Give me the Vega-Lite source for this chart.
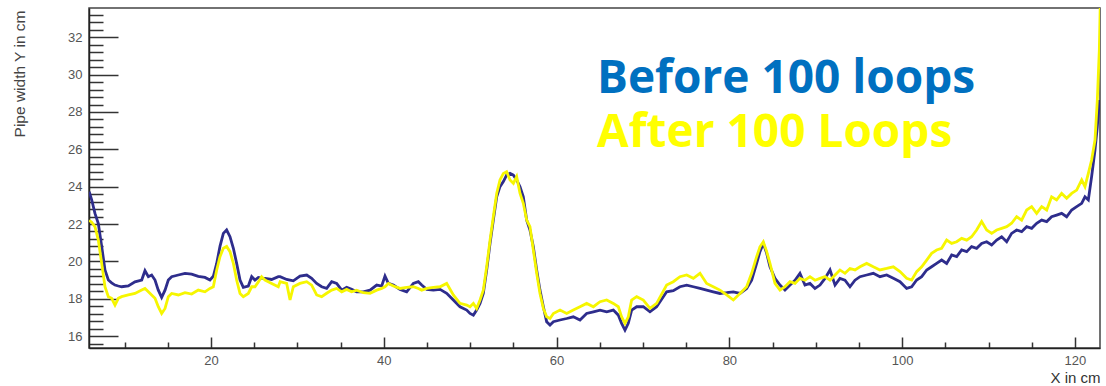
{
  "$schema": "https://vega.github.io/schema/vega-lite/v6.json",
  "width": 1011,
  "height": 340,
  "autosize": "none",
  "padding": {"left": 89, "top": 8, "right": 6, "bottom": 38},
  "background": "white",
  "config": {"view": {"stroke": "#444", "strokeWidth": 1.5}},
  "datasets": {
    "pipe": [
      {"x": 5.9, "b": 23.73, "a": 22.2}, {"x": 6.19, "b": 23.3, "a": 22.1}, {"x": 6.57, "b": 22.57, "a": 21.86}, {"x": 6.96, "b": 22.03, "a": 21.14},
      {"x": 7.35, "b": 20.8, "a": 19.89}, {"x": 7.73, "b": 19.54, "a": 18.64}, {"x": 8.12, "b": 19.0, "a": 18.11}, {"x": 8.5, "b": 18.85, "a": 18.02},
      {"x": 8.89, "b": 18.73, "a": 17.66}, {"x": 9.27, "b": 18.68, "a": 18.02}, {"x": 9.66, "b": 18.64, "a": 18.11}, {"x": 10.43, "b": 18.68, "a": 18.2},
      {"x": 11.2, "b": 18.9, "a": 18.28}, {"x": 11.98, "b": 19.0, "a": 18.46}, {"x": 12.36, "b": 19.5, "a": 18.55}, {"x": 12.75, "b": 19.18, "a": 18.37},
      {"x": 13.13, "b": 19.27, "a": 18.2}, {"x": 13.52, "b": 19.0, "a": 18.02}, {"x": 13.9, "b": 18.46, "a": 17.57}, {"x": 14.29, "b": 18.07, "a": 17.21},
      {"x": 14.68, "b": 18.46, "a": 17.48}, {"x": 15.06, "b": 19.0, "a": 18.11}, {"x": 15.45, "b": 19.18, "a": 18.28}, {"x": 16.22, "b": 19.27, "a": 18.2},
      {"x": 16.99, "b": 19.36, "a": 18.32}, {"x": 17.76, "b": 19.32, "a": 18.25}, {"x": 18.53, "b": 19.2, "a": 18.46}, {"x": 19.3, "b": 19.14, "a": 18.37},
      {"x": 19.88, "b": 19.0, "a": 18.55}, {"x": 20.27, "b": 19.2, "a": 18.64}, {"x": 20.66, "b": 19.89, "a": 19.54}, {"x": 21.04, "b": 20.8, "a": 20.25},
      {"x": 21.43, "b": 21.5, "a": 20.7}, {"x": 21.81, "b": 21.68, "a": 20.8}, {"x": 22.2, "b": 21.32, "a": 20.52}, {"x": 22.59, "b": 20.7, "a": 19.89},
      {"x": 22.97, "b": 19.89, "a": 19.0}, {"x": 23.36, "b": 19.0, "a": 18.28}, {"x": 23.74, "b": 18.61, "a": 18.11}, {"x": 24.32, "b": 18.68, "a": 18.28},
      {"x": 24.71, "b": 19.18, "a": 18.64}, {"x": 25.09, "b": 19.0, "a": 18.64}, {"x": 25.48, "b": 19.14, "a": 18.9}, {"x": 25.86, "b": 19.1, "a": 19.18},
      {"x": 26.25, "b": 19.09, "a": 19.0}, {"x": 27.02, "b": 19.03, "a": 18.82}, {"x": 27.79, "b": 19.18, "a": 18.64},
      {"x": 28.0, "b": 19.18, "a": 18.91}, {"x": 28.76, "b": 19.03, "a": 18.82}, {"x": 29.15, "b": 19.0, "a": 17.93}, {"x": 29.53, "b": 18.96, "a": 18.64},
      {"x": 30.3, "b": 19.21, "a": 18.82}, {"x": 31.08, "b": 19.27, "a": 18.91}, {"x": 31.65, "b": 19.09, "a": 18.73}, {"x": 32.23, "b": 18.82, "a": 18.2},
      {"x": 32.81, "b": 18.64, "a": 18.11}, {"x": 33.39, "b": 18.55, "a": 18.29}, {"x": 33.97, "b": 18.91, "a": 18.46}, {"x": 34.55, "b": 18.82, "a": 18.55},
      {"x": 35.13, "b": 18.46, "a": 18.37}, {"x": 35.7, "b": 18.61, "a": 18.5}, {"x": 36.28, "b": 18.5, "a": 18.37}, {"x": 36.86, "b": 18.37, "a": 18.46},
      {"x": 37.63, "b": 18.37, "a": 18.32}, {"x": 38.41, "b": 18.46, "a": 18.29}, {"x": 39.18, "b": 18.73, "a": 18.46}, {"x": 39.76, "b": 18.68, "a": 18.55},
      {"x": 40.14, "b": 19.21, "a": 18.64}, {"x": 40.53, "b": 18.82, "a": 18.82}, {"x": 41.11, "b": 18.73, "a": 18.68}, {"x": 41.88, "b": 18.5, "a": 18.55},
      {"x": 42.65, "b": 18.37, "a": 18.61}, {"x": 43.42, "b": 18.82, "a": 18.64}, {"x": 44.0, "b": 18.91, "a": 18.55}, {"x": 44.39, "b": 18.73, "a": 18.46},
      {"x": 44.97, "b": 18.5, "a": 18.55}, {"x": 45.74, "b": 18.46, "a": 18.61}, {"x": 46.51, "b": 18.5, "a": 18.64}, {"x": 47.28, "b": 18.29, "a": 18.82},
      {"x": 48.05, "b": 17.93, "a": 18.2}, {"x": 48.82, "b": 17.57, "a": 17.75}, {"x": 49.6, "b": 17.39, "a": 17.66},
      {"x": 49.98, "b": 17.21, "a": 17.57}, {"x": 50.37, "b": 17.12, "a": 17.75}, {"x": 50.75, "b": 17.39, "a": 17.48}, {"x": 51.14, "b": 17.75, "a": 17.93},
      {"x": 51.52, "b": 18.28, "a": 18.46}, {"x": 51.91, "b": 19.53, "a": 19.71}, {"x": 52.3, "b": 20.96, "a": 21.14}, {"x": 52.68, "b": 22.21, "a": 22.39},
      {"x": 53.07, "b": 23.46, "a": 23.64}, {"x": 53.45, "b": 24.0, "a": 24.36}, {"x": 53.84, "b": 24.27, "a": 24.71}, {"x": 54.22, "b": 24.62, "a": 24.8},
      {"x": 54.61, "b": 24.71, "a": 24.36}, {"x": 55.0, "b": 24.62, "a": 24.18}, {"x": 55.38, "b": 24.36, "a": 24.54}, {"x": 55.77, "b": 24.0, "a": 23.64},
      {"x": 56.15, "b": 23.46, "a": 23.11}, {"x": 56.54, "b": 22.21, "a": 22.21}, {"x": 56.92, "b": 21.68, "a": 21.86}, {"x": 57.31, "b": 20.78, "a": 20.61},
      {"x": 57.7, "b": 19.53, "a": 19.36}, {"x": 58.08, "b": 18.46, "a": 18.28}, {"x": 58.47, "b": 17.57, "a": 17.48}, {"x": 58.85, "b": 16.77, "a": 17.03},
      {"x": 59.24, "b": 16.59, "a": 16.94}, {"x": 59.63, "b": 16.77, "a": 17.21}, {"x": 60.4, "b": 16.86, "a": 17.39}, {"x": 61.17, "b": 16.94, "a": 17.21},
      {"x": 61.94, "b": 17.03, "a": 17.39}, {"x": 62.71, "b": 16.86, "a": 17.57}, {"x": 63.48, "b": 17.21, "a": 17.75}, {"x": 64.26, "b": 17.3, "a": 17.57},
      {"x": 65.03, "b": 17.39, "a": 17.84}, {"x": 65.8, "b": 17.3, "a": 17.93}, {"x": 66.57, "b": 17.39, "a": 17.75}, {"x": 67.15, "b": 17.12, "a": 17.57},
      {"x": 67.53, "b": 16.68, "a": 17.03}, {"x": 67.92, "b": 16.32, "a": 16.68}, {"x": 68.3, "b": 16.68, "a": 17.03}, {"x": 68.69, "b": 17.39, "a": 17.93},
      {"x": 69.27, "b": 17.57, "a": 18.11}, {"x": 70.04, "b": 17.57, "a": 17.93}, {"x": 70.81, "b": 17.3, "a": 17.48}, {"x": 71.58, "b": 17.57, "a": 17.75},
      {"x": 72.74, "b": 18.37, "a": 18.73}, {"x": 73.51, "b": 18.43, "a": 18.91}, {"x": 74.28, "b": 18.64, "a": 19.18}, {"x": 75.06, "b": 18.73, "a": 19.27},
      {"x": 75.83, "b": 18.64, "a": 19.09}, {"x": 76.6, "b": 18.55, "a": 19.36}, {"x": 77.37, "b": 18.46, "a": 18.82}, {"x": 78.14, "b": 18.37, "a": 18.64},
      {"x": 78.91, "b": 18.28, "a": 18.46}, {"x": 79.69, "b": 18.32, "a": 18.2}, {"x": 80.46, "b": 18.37, "a": 17.93}, {"x": 81.23, "b": 18.28, "a": 18.28},
      {"x": 82.0, "b": 18.55, "a": 18.64}, {"x": 82.58, "b": 18.99, "a": 19.36}, {"x": 83.16, "b": 19.89, "a": 20.25}, {"x": 83.54, "b": 20.52, "a": 20.78},
      {"x": 83.93, "b": 20.96, "a": 21.05}, {"x": 84.32, "b": 20.43, "a": 20.52}, {"x": 84.7, "b": 19.71, "a": 19.89}, {"x": 85.28, "b": 19.09, "a": 18.82},
      {"x": 85.86, "b": 18.73, "a": 18.46}, {"x": 86.44, "b": 18.46, "a": 18.64}, {"x": 87.02, "b": 18.73, "a": 18.91}, {"x": 87.6, "b": 18.99, "a": 18.82},
      {"x": 88.17, "b": 19.36, "a": 19.09}, {"x": 88.75, "b": 18.73, "a": 18.99}, {"x": 89.33, "b": 18.82, "a": 19.18}, {"x": 89.91, "b": 18.55, "a": 18.99},
      {"x": 90.49, "b": 18.73, "a": 19.09}, {"x": 91.07, "b": 19.09, "a": 19.18}, {"x": 91.65, "b": 19.54, "a": 18.99}, {"x": 92.23, "b": 18.73, "a": 19.27},
      {"x": 92.8, "b": 19.09, "a": 19.54}, {"x": 93.38, "b": 18.99, "a": 19.36}, {"x": 93.96, "b": 18.64, "a": 19.62}, {"x": 94.54, "b": 18.99, "a": 19.54},
      {"x": 95.12, "b": 19.18, "a": 19.71}, {"x": 95.89, "b": 19.27, "a": 19.89}, {"x": 96.66, "b": 19.36, "a": 19.71}, {"x": 97.43, "b": 19.18, "a": 19.54},
      {"x": 98.21, "b": 19.27, "a": 19.62}, {"x": 98.98, "b": 19.09, "a": 19.71}, {"x": 99.75, "b": 18.91, "a": 19.45}, {"x": 100.52, "b": 18.55, "a": 19.09},
      {"x": 101.1, "b": 18.64, "a": 19.0}, {"x": 101.68, "b": 19.0, "a": 19.45}, {"x": 102.26, "b": 19.18, "a": 19.71}, {"x": 102.84, "b": 19.54, "a": 20.07},
      {"x": 103.41, "b": 19.71, "a": 20.43}, {"x": 103.99, "b": 19.89, "a": 20.61}, {"x": 104.57, "b": 20.07, "a": 20.7}, {"x": 105.15, "b": 19.89, "a": 21.14},
      {"x": 105.73, "b": 20.34, "a": 20.96}, {"x": 106.31, "b": 20.25, "a": 21.05}, {"x": 106.89, "b": 20.61, "a": 21.23}, {"x": 107.47, "b": 20.52, "a": 21.14},
      {"x": 108.04, "b": 20.79, "a": 21.32}, {"x": 108.62, "b": 20.7, "a": 21.68}, {"x": 109.2, "b": 20.96, "a": 22.13}, {"x": 109.78, "b": 21.05, "a": 21.68},
      {"x": 110.36, "b": 20.88, "a": 21.5}, {"x": 110.94, "b": 21.14, "a": 21.68}, {"x": 111.52, "b": 21.32, "a": 21.77}, {"x": 112.1, "b": 21.05, "a": 21.86},
      {"x": 112.67, "b": 21.5, "a": 22.04}, {"x": 113.25, "b": 21.68, "a": 22.39}, {"x": 113.83, "b": 21.59, "a": 22.21}, {"x": 114.41, "b": 21.86, "a": 22.75},
      {"x": 114.99, "b": 21.77, "a": 22.93}, {"x": 115.57, "b": 22.04, "a": 22.57}, {"x": 116.15, "b": 22.21, "a": 22.93}, {"x": 116.73, "b": 22.13, "a": 22.75},
      {"x": 117.3, "b": 22.39, "a": 23.46}, {"x": 117.88, "b": 22.48, "a": 23.29}, {"x": 118.46, "b": 22.57, "a": 23.64}, {"x": 119.04, "b": 22.39, "a": 23.38},
      {"x": 119.62, "b": 22.75, "a": 23.64}, {"x": 120.2, "b": 22.93, "a": 23.82}, {"x": 120.78, "b": 23.11, "a": 24.36}, {"x": 121.16, "b": 23.46, "a": 24.0},
      {"x": 121.55, "b": 23.29, "a": 24.71}, {"x": 121.93, "b": 24.54, "a": 25.43}, {"x": 122.32, "b": 25.96, "a": 26.5}, {"x": 122.59, "b": 27.21, "a": 28.64},
      {"x": 122.82, "b": 28.64, "a": 31.3}, {"x": 122.95, "b": null, "a": 34.2}
    ],
    "labels": [
      {"label": "Before 100 loops", "x": 64.68, "b": 29.02},
      {"label": "After 100 Loops", "x": 64.68, "b": 26.12}
    ]
  },
  "encoding": {
    "x": {
      "field": "x",
      "type": "quantitative",
      "scale": {"domain": [5.88, 122.9], "nice": false, "zero": false},
      "axis": {
        "title": "X in cm",
        "values": [10, 15, 20, 25, 30, 35, 40, 45, 50, 55, 60, 65, 70, 75, 80, 85, 90, 95, 100, 105, 110, 115, 120],
        "tickSize": {"condition": {"test": "datum.value % 20 === 0", "value": -11}, "value": -6},
        "labelPadding": 17,
        "labelExpr": "datum.value % 20 === 0 ? format(datum.value, 'd') : ''",
        "labelFont": "Liberation Sans",
        "labelFontSize": 13,
        "labelColor": "#555",
        "labelFlush": false,
        "labelOverlap": false,
        "tickColor": "#333",
        "tickWidth": 1.5,
        "domainColor": "#222",
        "domainWidth": 1.5,
        "grid": false,
        "titleFont": "Liberation Sans",
        "titleFontSize": 15,
        "titleFontWeight": "normal",
        "titleColor": "#333",
        "titleX": 1011,
        "titleY": 34,
        "titleAlign": "right",
        "titleBaseline": "alphabetic"
      }
    },
    "y": {
      "field": "b",
      "type": "quantitative",
      "title": "Pipe width Y in cm",
      "scale": {"domain": [15.36, 33.57], "nice": false, "zero": false},
      "axis": {
        "title": "Pipe width Y in cm",
        "values": [15.6, 16, 16.4, 16.8, 17.2, 17.6, 18, 18.4, 18.8, 19.2, 19.6, 20, 20.4, 20.8, 21.2, 21.6, 22, 22.4, 22.8, 23.2, 23.6, 24, 24.4, 24.8, 25.2, 25.6, 26, 26.4, 26.8, 27.2, 27.6, 28, 28.4, 28.8, 29.2, 29.6, 30, 30.4, 30.8, 31.2, 31.6, 32, 32.4, 32.8, 33.2],
        "tickSize": {"condition": {"test": "datum.value % 2 === 0", "value": -29}, "value": -14},
        "labelPadding": 36,
        "labelExpr": "datum.value % 2 === 0 ? format(datum.value, 'd') : ''",
        "labelFont": "Liberation Sans",
        "labelFontSize": 13,
        "labelColor": "#555",
        "labelFlush": false,
        "labelOverlap": false,
        "tickColor": "#333",
        "tickWidth": 1.5,
        "domainColor": "#222",
        "domainWidth": 1.5,
        "grid": false,
        "titleFont": "Liberation Sans",
        "titleFontSize": 15.5,
        "titleFontWeight": "normal",
        "titleColor": "#444",
        "titleAngle": -90,
        "titleX": -70,
        "titleY": 2,
        "titleAlign": "right",
        "titleBaseline": "middle"
      }
    }
  },
  "layer": [
    {
      "data": {"name": "pipe"},
      "mark": {"type": "line", "color": "#2e2d8c", "strokeWidth": 2.8, "clip": true}
    },
    {
      "data": {"name": "pipe"},
      "mark": {"type": "line", "color": "#f6f600", "strokeWidth": 2.8, "clip": true},
      "encoding": {
        "y": {
          "field": "a",
          "type": "quantitative",
          "title": "Pipe width Y in cm",
          "scale": {"domain": [15.36, 33.57], "nice": false, "zero": false}
        }
      }
    },
    {
      "data": {"name": "labels"},
      "mark": {"type": "text", "font": "Open Sans", "fontWeight": "bold", "fontSize": 46, "align": "left", "baseline": "alphabetic"},
      "encoding": {
        "text": {"field": "label"},
        "color": {
          "field": "label",
          "type": "nominal",
          "scale": {"domain": ["Before 100 loops", "After 100 Loops"], "range": ["#0070c0", "#ffff00"]},
          "legend": null
        }
      }
    }
  ]
}
